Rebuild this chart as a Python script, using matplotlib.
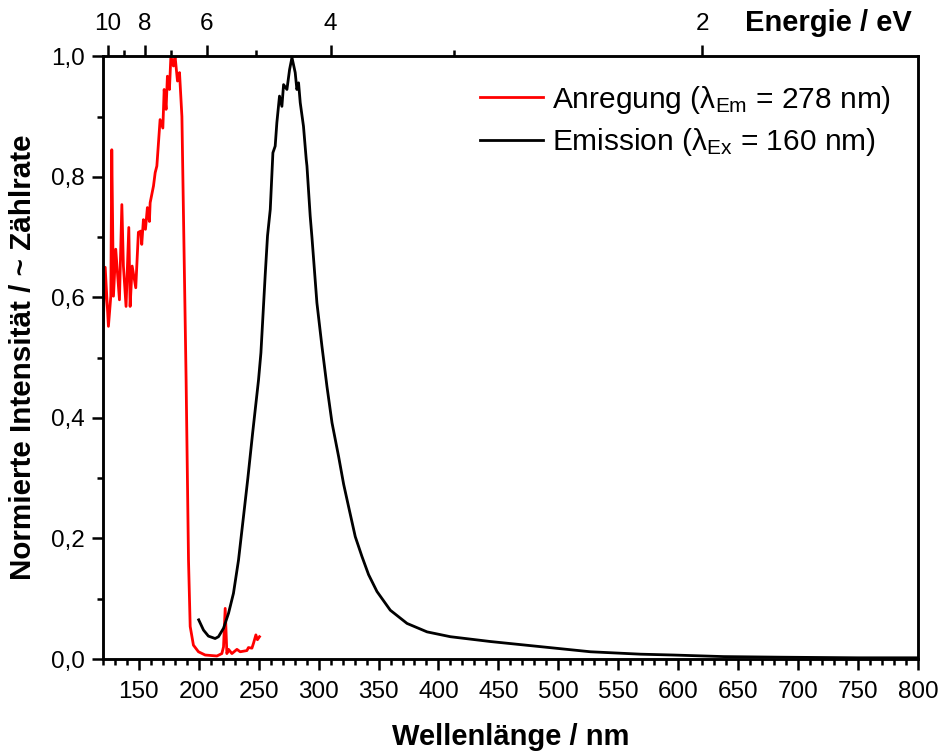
"""
Anregungs- und Emissionsspektrum, normiert, mit Energieachse oben.
"""
import numpy as np
import matplotlib
matplotlib.use('Agg')
import matplotlib.pyplot as plt
from matplotlib.ticker import MultipleLocator, FixedLocator, FuncFormatter

plt.rcParams['font.family'] = ['Liberation Sans', 'DejaVu Sans']
plt.rcParams['mathtext.fontset'] = 'custom'
plt.rcParams['mathtext.rm'] = 'Liberation Sans'
plt.rcParams['mathtext.it'] = 'Liberation Sans:italic'

# Anregung (lambda_Em = 278 nm)
ex_wl = [120.0, 122.0, 124.7, 126.7, 127.5, 128.9, 130.8, 133.9, 135.9, 137.2,
         139.4, 141.7, 142.8, 144.5, 147.5, 149.7, 151.7, 152.5, 153.9, 155.6,
         157.2, 158.9, 159.5, 162.3, 163.7, 165.1, 167.8, 170.1, 171.2, 172.8,
         173.9, 175.6, 176.8, 178.9, 180.3, 182.3, 184.0, 186.0, 189.5, 191.5,
         192.9, 195.6, 199.8, 205.4, 215.2, 219.3, 220.7, 222.1, 223.5, 224.9,
         227.7, 231.9, 234.6, 240.2, 241.5, 244.4, 245.7, 247.7, 249.0, 250.7]
ex_int = [0.535, 0.650, 0.552, 0.602, 0.845, 0.602, 0.680, 0.596, 0.754, 0.652,
          0.585, 0.716, 0.585, 0.652, 0.616, 0.708, 0.710, 0.688, 0.729, 0.713,
          0.749, 0.726, 0.757, 0.785, 0.807, 0.818, 0.895, 0.881, 0.945, 0.912,
          0.967, 0.945, 1.000, 0.984, 1.000, 0.959, 0.973, 0.900, 0.463, 0.164,
          0.054, 0.023, 0.012, 0.0066, 0.005, 0.009, 0.020, 0.084, 0.009, 0.016,
          0.009, 0.016, 0.012, 0.014, 0.019, 0.018, 0.026, 0.040, 0.032, 0.037]

# Emission (lambda_Ex = 160 nm)
em_wl = [200.0, 204.0, 208.1, 213.7, 216.5, 220.7, 224.9, 229.0, 233.2, 237.0,
         241.0, 245.0, 249.9, 251.9, 255.5, 257.4, 259.7, 261.9, 263.8, 265.2,
         267.4, 269.4, 270.8, 273.6, 275.8, 277.8, 280.5, 281.9, 283.3, 284.7,
         287.4, 289.7, 290.3, 293.0, 294.5, 298.6, 302.8, 307.0, 311.2, 316.7,
         320.9, 325.0, 330.6, 336.2, 341.7, 348.7, 359.8, 373.8, 390.5, 409.9,
         443.3, 485.0, 526.8, 568.6, 596.0, 637.8, 685.4, 750.0, 800.0]
em_int = [0.065, 0.048, 0.038, 0.034, 0.037, 0.051, 0.076, 0.109, 0.164, 0.230,
          0.300, 0.375, 0.463, 0.508, 0.638, 0.702, 0.746, 0.840, 0.851, 0.890,
          0.934, 0.917, 0.953, 0.945, 0.978, 0.998, 0.973, 0.945, 0.956, 0.923,
          0.884, 0.829, 0.818, 0.735, 0.699, 0.591, 0.519, 0.452, 0.392, 0.336,
          0.290, 0.253, 0.203, 0.170, 0.140, 0.112, 0.081, 0.059, 0.045, 0.037,
          0.029, 0.0205, 0.012, 0.008, 0.0066, 0.004, 0.003, 0.002, 0.002]

# Energieachse
e_major = [10, 8, 6, 4, 2]
e_minor = [9, 7, 5, 3]
hc = 1239.84  # eV*nm

fig = plt.figure(figsize=(9.43, 7.51), dpi=100)
ax = fig.add_axes([0.109, 0.1225, 0.8645, 0.8025])

ax.plot(ex_wl, ex_int, color='#ff0000', lw=2.0,
        label='Anregung (λ$_{\\mathrm{Em}}$ = 278 nm)')
ax.plot(em_wl, em_int, color='black', lw=2.0,
        label='Emission (λ$_{\\mathrm{Ex}}$ = 160 nm)')

ax.set_xlim(120, 800)
ax.set_ylim(0, 1.0)
ax.xaxis.set_major_locator(MultipleLocator(50))
ax.xaxis.set_minor_locator(MultipleLocator(10))
ax.yaxis.set_major_locator(MultipleLocator(0.2))
ax.yaxis.set_minor_locator(MultipleLocator(0.1))
ax.yaxis.set_major_formatter(FuncFormatter(lambda v, p: f'{v:.1f}'.replace('.', ',')))

for s in ax.spines.values():
    s.set_linewidth(1.8)
ax.tick_params(which='both', direction='out', width=1.8, labelsize=17.5,
               top=False, right=False)
ax.tick_params(axis='x', which='major', pad=8)
ax.tick_params(axis='y', which='major', pad=5)
ax.tick_params(which='major', length=8)
ax.tick_params(which='minor', length=4.5)

ax.set_xlabel('Wellenlänge / nm', fontsize=21, fontweight='bold', labelpad=14)
ax.set_ylabel('Normierte Intensität / ~ Zählrate', fontsize=21.3,
              fontweight='bold', labelpad=10)

# obere Achse in eV
ax2 = ax.twiny()
ax2.set_xlim(ax.get_xlim())
ax2.xaxis.set_major_locator(FixedLocator([hc / e for e in e_major]))
ax2.xaxis.set_minor_locator(FixedLocator([hc / e for e in e_minor]))
ax2.set_xticklabels([str(e) for e in e_major])
ax2.tick_params(which='both', direction='out', width=1.8, labelsize=17.5, pad=7)
ax2.tick_params(which='major', length=8)
ax2.tick_params(which='minor', length=4.5)
for s in ax2.spines.values():
    s.set_linewidth(1.8)
fig.text(0.878, 0.969, 'Energie / eV', fontsize=21, fontweight='bold',
         ha='center', va='center')

ax.legend(loc='upper right', frameon=False, fontsize=21.5, handlelength=2.1,
          handletextpad=0.3, labelspacing=0.35, bbox_to_anchor=(1.0, 0.999))

fig.savefig('out.png', dpi=100)
